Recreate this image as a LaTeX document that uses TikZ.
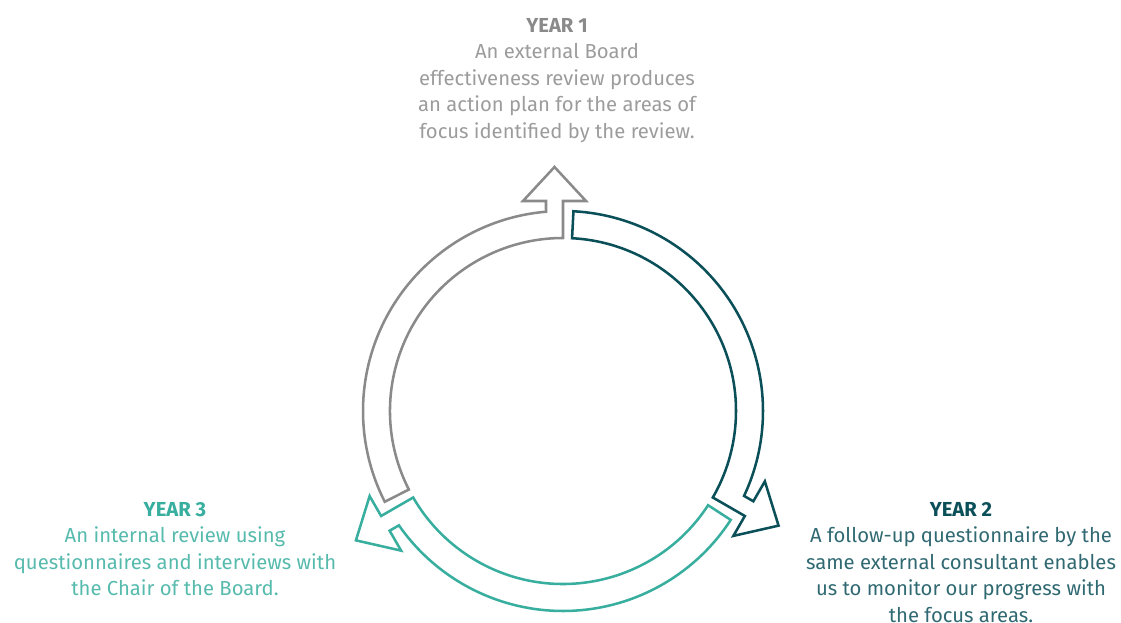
\documentclass[tikz,border=0pt]{standalone}
\usepackage{fontspec}
\setmainfont{Fira Sans}
\definecolor{yeargray}{HTML}{8A8A8A}
\definecolor{yeardark}{HTML}{0B4F59}
\definecolor{yearteal}{HTML}{38AE9F}

\begin{document}
\begin{tikzpicture}[
  x=0.75pt, y=0.75pt,
  ringarrow/.style={line width=1.9pt},
  yeartext/.style={align=center, inner sep=0pt, anchor=north, font=\fontsize{15.2}{19.9}\selectfont},
  yeararrow/.pic={
    \draw[pic actions] (207:173) arc[start angle=207, end angle=90, radius=173]
      -- (0,210) -- (23,210) -- (-8.5,244) -- (-40,210) -- (-17,210)
      -- (94.87:200) arc[start angle=94.87, end angle=207, radius=200] -- cycle;
  }
]
\useasboundingbox (-563,-212) rectangle (558,411);

% Cycle arrows
\pic[ringarrow, draw=yeargray] (arrowone) at (0,0) {yeararrow};
\pic[ringarrow, draw=yeardark, rotate=-120] (arrowtwo) at (0,0) {yeararrow};
\pic[ringarrow, draw=yearteal, rotate=120] (arrowthree) at (0,0) {yeararrow};

% Year texts
\node[yeartext, text=yeargray!85] (yearone) at (-6,393) {\textcolor{yeargray}{\textbf{YEAR 1}}\\An external Board\\effectiveness review produces\\an action plan for the areas of\\focus identified by the review.};
\node[yeartext, text=yeardark!85] (yeartwo) at (398,-90.7) {\textcolor{yeardark}{\textbf{YEAR 2}}\\A follow-up questionnaire by the\\same external consultant enables\\us to monitor our progress with\\the focus areas.};
\node[yeartext, text=yearteal!85] (yearthree) at (-388,-90.7) {\textcolor{yearteal}{\textbf{YEAR 3}}\\An internal review using\\questionnaires and interviews with\\the Chair of the Board.};

\end{tikzpicture}
\end{document}
